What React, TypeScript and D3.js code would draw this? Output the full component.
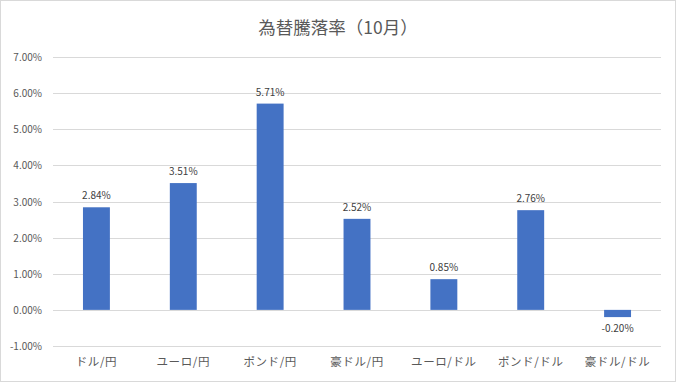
import React from "react";
import * as d3 from "d3";

const categories = ["ドル/円", "ユーロ/円", "ポンド/円", "豪ドル/円", "ユーロ/ドル", "ポンド/ドル", "豪ドル/ドル"];
const values = [2.84, 3.51, 5.71, 2.52, 0.85, 2.76, -0.2];
const yTicks = [-1, 0, 1, 2, 3, 4, 5, 6, 7];
const title = "為替騰落率（10月）";

const W = 676;
const H = 382;
const font = "'Noto Sans CJK JP', 'Noto Sans', sans-serif";

export default function App() {
  const x = d3.scaleBand<string>().domain(categories).range([53, 661]).paddingInner(0.69).paddingOuter(0.345);
  const y = d3.scaleLinear().domain([-1, 7]).range([346, 57]);
  return (
    <svg width={W} height={H} style={{ position: "absolute", left: 0, top: 0 }} fontFamily={font}>
      <rect x={0.5} y={0.5} width={W - 1} height={H - 1} fill="#fff" stroke="#d9d9d9" />
      <text x={W / 2} y={34} textAnchor="middle" fontSize={17.5} fill="#595959">{title}</text>
      {yTicks.map((t) => (
        <g key={t}>
          <line x1={53} x2={661} y1={Math.round(y(t)) + 0.5} y2={Math.round(y(t)) + 0.5} stroke="#d9d9d9" />
          <text x={42} y={y(t) + 4} textAnchor="end" fontSize={10} fill="#595959">{t.toFixed(2) + "%"}</text>
        </g>
      ))}
      {categories.map((c, i) => {
        const v = values[i];
        const y0 = y(0);
        const yv = y(v);
        return (
          <g key={c}>
            <rect x={x(c)} y={Math.min(y0, yv)} width={x.bandwidth()} height={Math.abs(yv - y0)} fill="#4472C4" />
            <text x={(x(c) as number) + x.bandwidth() / 2} y={v >= 0 ? yv - 8 : yv + 15} textAnchor="middle" fontSize={10} fill="#404040">{v.toFixed(2) + "%"}</text>
            <text x={(x(c) as number) + x.bandwidth() / 2} y={366} textAnchor="middle" fontSize={11.5} letterSpacing={0.6} fill="#595959">{c}</text>
          </g>
        );
      })}
    </svg>
  );
}
